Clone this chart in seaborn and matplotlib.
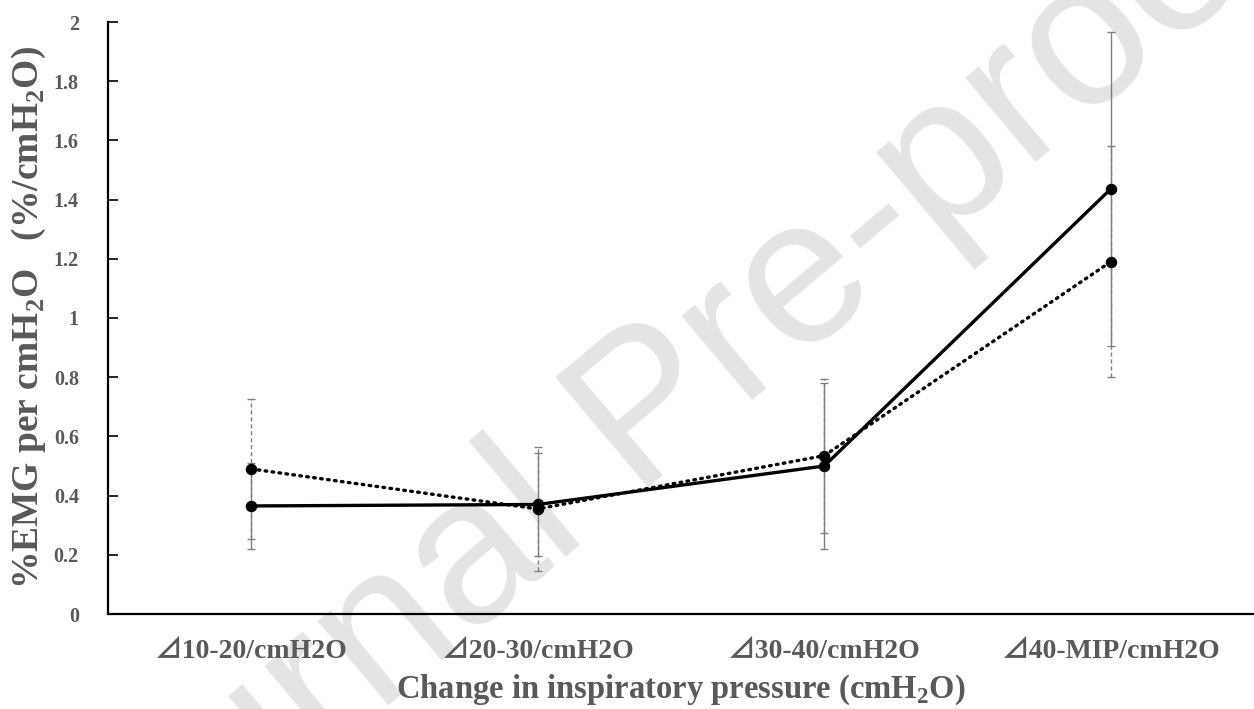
import matplotlib
matplotlib.use("Agg")
import matplotlib.pyplot as plt
import seaborn as sns
import pandas as pd
import numpy as np
from matplotlib.ticker import FuncFormatter, MultipleLocator

categories = ["⊿10-20/cmH2O", "⊿20-30/cmH2O", "⊿30-40/cmH2O", "⊿40-MIP/cmH2O"]
solid_vals = [0.365, 0.37, 0.50, 1.436]
solid_err = [0.145, 0.175, 0.28, 0.53]
dotted_vals = [0.49, 0.355, 0.535, 1.19]
dotted_err = [0.235, 0.21, 0.26, 0.39]

sns.set_theme(style="white")
plt.rcParams['font.family'] = ['Liberation Serif', 'Noto Sans CJK JP', 'DejaVu Sans']
plt.rcParams['mathtext.fontset'] = 'custom'
plt.rcParams['mathtext.rm'] = 'Liberation Serif'
plt.rcParams['mathtext.bf'] = 'Liberation Serif:bold'

fig = plt.figure(figsize=(12.54, 7.09), dpi=100)
ax = fig.add_axes([108/1254, 1-614/709, 1146/1254, (614-22)/709])

# watermark (behind everything)
fig.text(0.518, 0.413, "Journal Pre-proof", fontsize=150, color="#e4e4e4",
         rotation=40, ha="center", va="center", family="Liberation Sans", zorder=-5)
ax.set_facecolor("none")

x = np.arange(len(categories))
df = pd.DataFrame({"x": np.concatenate([x, x]),
                   "y": solid_vals + dotted_vals,
                   "series": ["A"] * 4 + ["B"] * 4})

gray = "#7f7f7f"
eb1 = ax.errorbar(x, dotted_vals, yerr=dotted_err, fmt="none", ecolor=gray,
                  elinewidth=1.0, capsize=3.2, capthick=1.0, zorder=2)
eb1[2][0].set_linestyle((0, (3, 2)))
eb2 = ax.errorbar(x, solid_vals, yerr=solid_err, fmt="none", ecolor=gray,
                  elinewidth=1.0, capsize=3.2, capthick=1.0, zorder=2)

sns.lineplot(data=df[df.series == "A"], x="x", y="y", ax=ax, color="black",
             linewidth=2.4, marker="o", markersize=7.5, markeredgecolor="black",
             zorder=4, legend=False)
sns.lineplot(data=df[df.series == "B"], x="x", y="y", ax=ax, color="black",
             linewidth=2.4, linestyle=(0, (0.5, 1.6)), dash_capstyle="round",
             marker="o", markersize=7.5, markeredgecolor="black", zorder=3, legend=False)

ax.set_xlim(-0.5, 3.5)
ax.set_ylim(0, 2)
ax.yaxis.set_major_locator(MultipleLocator(0.2))
ax.yaxis.set_major_formatter(FuncFormatter(lambda v, p: f"{v:.1f}".rstrip("0").rstrip(".") if v != 0 else "0"))
ax.set_xticks(x)
ax.set_xticklabels(categories)

for s in ["top", "right"]:
    ax.spines[s].set_visible(False)
for s in ["left", "bottom"]:
    ax.spines[s].set_color("black")
    ax.spines[s].set_linewidth(1.6)

tick_color = "#595959"
ax.tick_params(axis="y", direction="in", length=7, width=1.2, color="black",
               labelsize=14.5, labelcolor=tick_color, pad=21, left=True)
ax.tick_params(axis="x", length=0, labelsize=20, labelcolor=tick_color, pad=18)
for lab in ax.get_xticklabels() + ax.get_yticklabels():
    lab.set_fontweight("bold")

ax.set_xlabel("Change in inspiratory pressure (cmH$_\\mathbf{2}$O)", fontsize=23.5,
              fontweight="bold", color=tick_color, labelpad=6)
ax.set_ylabel("%EMG per cmH$_\\mathbf{2}$O   (%/cmH$_\\mathbf{2}$O)", fontsize=27,
              fontweight="bold", color=tick_color, labelpad=4)

fig.savefig("out.png", dpi=100)
